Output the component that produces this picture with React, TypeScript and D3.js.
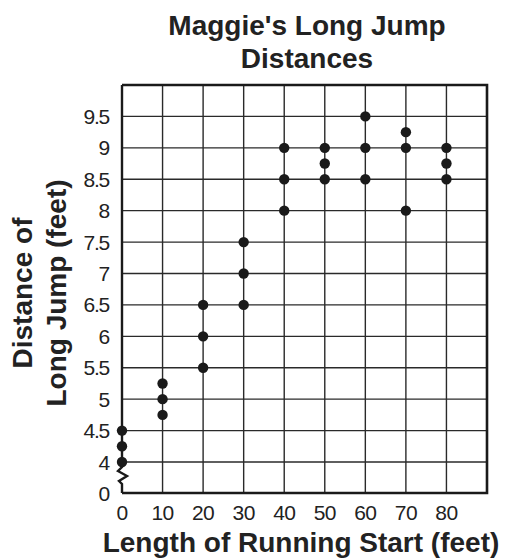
import { useEffect, useRef } from 'react';
import * as d3 from 'd3';

const runStart = [0, 10, 20, 30, 40, 50, 60, 70, 80];
const jumps: number[][] = [
  [4, 4.25, 4.5],
  [4.75, 5, 5.25],
  [5.5, 6, 6.5],
  [6.5, 7, 7.5],
  [8, 8.5, 9],
  [8.5, 8.75, 9],
  [8.5, 9, 9.5],
  [8, 9, 9.25],
  [8.5, 8.75, 9],
];
const yTicks = [0, 4, 4.5, 5, 5.5, 6, 6.5, 7, 7.5, 8, 8.5, 9, 9.5];
const yGrid = [4, 4.5, 5, 5.5, 6, 6.5, 7, 7.5, 8, 8.5, 9, 9.5];
const xGrid = [10, 20, 30, 40, 50, 60, 70, 80];

const W = 506;
const H = 560;
const FONT = "'Liberation Sans', Arial, Helvetica, sans-serif";

export default function App() {
  const ref = useRef<SVGSVGElement>(null);

  useEffect(() => {
    if (!ref.current) return;
    const svg = d3.select(ref.current);
    svg.selectAll('*').remove();

    const x = d3.scaleLinear().domain([0, 90]).range([122, 487]);
    // broken axis: 0 sits one grid step below 4
    const y = d3.scaleLinear().domain([0, 4, 10]).range([493, 462, 85]);

    const g = svg.append('g');

    // grid
    g.selectAll('.hgrid')
      .data(yGrid)
      .join('line')
      .attr('x1', x(0))
      .attr('x2', x(90))
      .attr('y1', d => y(d))
      .attr('y2', d => y(d))
      .attr('stroke', '#2a2a2a')
      .attr('stroke-width', 1.4);

    g.selectAll('.vgrid')
      .data(xGrid)
      .join('line')
      .attr('x1', d => x(d))
      .attr('x2', d => x(d))
      .attr('y1', y(0))
      .attr('y2', y(10))
      .attr('stroke', '#2a2a2a')
      .attr('stroke-width', 1.4);

    // border: top, right, bottom
    g.append('path')
      .attr('d', `M${x(0)},${y(10)}H${x(90)}V${y(0)}H${x(0)}`)
      .attr('fill', 'none')
      .attr('stroke', '#1a1a1a')
      .attr('stroke-width', 2.6);

    // left axis with zigzag break
    const ax = x(0);
    g.append('path')
      .attr('d', `M${ax},${y(10)}V${y(4) + 5}L${ax - 4},${y(4) + 9}L${ax + 5},${y(4) + 14}L${ax - 3},${y(4) + 19}L${ax},${y(4) + 22}V${y(0)}`)
      .attr('fill', 'none')
      .attr('stroke', '#1a1a1a')
      .attr('stroke-width', 2.4)
      .attr('stroke-linejoin', 'miter');

    // dots
    const pts = runStart.flatMap((r, i) => jumps[i].map(v => ({ r, v })));
    g.selectAll('.dot')
      .data(pts)
      .join('circle')
      .attr('cx', d => x(d.r))
      .attr('cy', d => y(d.v))
      .attr('r', 5.2)
      .attr('fill', '#1a1a1a');

    // y tick labels
    g.selectAll('.ylab')
      .data(yTicks)
      .join('text')
      .attr('x', 109)
      .attr('y', d => y(d))
      .attr('dy', '0.36em')
      .attr('text-anchor', 'end')
      .attr('font-family', FONT)
      .attr('font-size', 21)
      .attr('letter-spacing', -1.2)
      .attr('fill', '#222')
      .text(d => String(d));

    // x tick labels
    g.selectAll('.xlab')
      .data(runStart)
      .join('text')
      .attr('x', d => x(d))
      .attr('y', 520)
      .attr('text-anchor', 'middle')
      .attr('font-family', FONT)
      .attr('font-size', 21)
      .attr('letter-spacing', -0.6)
      .attr('fill', '#222')
      .text(d => String(d));

    // titles
    const title = svg.append('text')
      .attr('text-anchor', 'middle')
      .attr('font-family', FONT)
      .attr('font-weight', 'bold')
      .attr('font-size', 28)
      .attr('fill', '#222');
    title.append('tspan').attr('x', 307).attr('y', 35).text("Maggie's Long Jump");
    title.append('tspan').attr('x', 307).attr('y', 68).text('Distances');

    svg.append('text')
      .attr('x', 301)
      .attr('y', 552)
      .attr('text-anchor', 'middle')
      .attr('font-family', FONT)
      .attr('font-weight', 'bold')
      .attr('font-size', 28)
      .attr('fill', '#222')
      .text('Length of Running Start (feet)');

    const yt = svg.append('text')
      .attr('transform', 'translate(0,293) rotate(-90)')
      .attr('text-anchor', 'middle')
      .attr('font-family', FONT)
      .attr('font-weight', 'bold')
      .attr('font-size', 28)
      .attr('fill', '#222');
    yt.append('tspan').attr('x', 0).attr('y', 32).text('Distance of');
    yt.append('tspan').attr('x', 0).attr('y', 66).text('Long Jump (feet)');
  }, []);

  return (
    <svg
      ref={ref}
      width={W}
      height={H}
      style={{ position: 'absolute', left: 0, top: 0, background: '#fff' }}
    />
  );
}
